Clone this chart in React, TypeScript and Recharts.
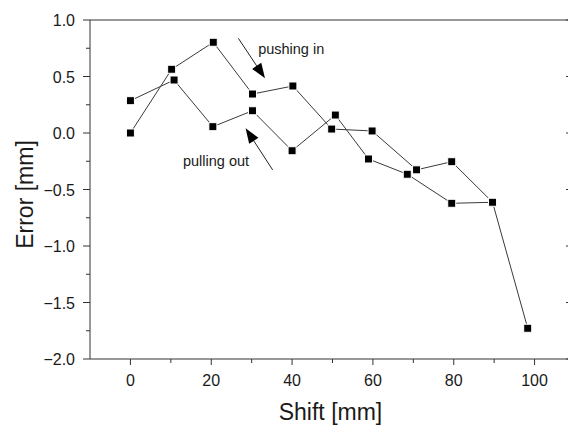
import React from 'react';
import { LineChart, Line, XAxis, YAxis, ReferenceLine, ReferenceDot } from 'recharts';

// pushing-in pass
const pushShift = [0, 10.2, 20.5, 30.2, 40.2, 49.8, 59.8, 70.8, 79.5, 89.6, 98.3];
const pushError = [0.0, 0.564, 0.803, 0.345, 0.416, 0.035, 0.018, -0.326, -0.254, -0.613, -1.728];

// pulling-out pass
const pullShift = [0, 10.8, 20.4, 30.2, 40.0, 50.7, 58.9, 68.5, 79.5, 89.6];
const pullError = [0.286, 0.469, 0.056, 0.197, -0.157, 0.159, -0.23, -0.365, -0.622, -0.613];

const xMajor = [0, 20, 40, 60, 80, 100];
const xMinor = [10, 30, 50, 70, 90];
const yMajor = [-2, -1.5, -1, -0.5, 0, 0.5, 1];
const yMinor = [-1.75, -1.25, -0.75, -0.25, 0.25, 0.75];

// annotation arrows: [tailShift, tailError, tipShift, tipError]
const pushArrow = [26.7, 0.838, 33.3, 0.484];
const pullArrow = [35.2, -0.327, 28.5, 0.042];

const pushData = pushShift.map((shift, i) => ({ shift, error: pushError[i] }));
const pullData = pullShift.map((shift, i) => ({ shift, error: pullError[i] }));
const xTicks = [...xMajor, ...xMinor].sort((a, b) => a - b);
const yTicks = [...yMajor, ...yMinor].sort((a, b) => a - b);

const AXIS = '#333';
const FONT = '"Liberation Sans", Arial, sans-serif';

const fmtY = (v: number) => (v < 0 ? '\u2212' : '') + Math.abs(v).toFixed(1);

const BottomTick = ({ x, y, payload }: any) => {
  const major = xMajor.includes(payload.value);
  return (
    <g>
      <line x1={x} x2={x} y1={y} y2={y + (major ? 6 : 4)} stroke={AXIS} />
      {major && (
        <text x={x} y={y + 27} textAnchor="middle" fontSize={16} fill="#1a1a1a" fontFamily={FONT}>
          {payload.value}
        </text>
      )}
    </g>
  );
};

const TopTick = ({ x, y, payload }: any) => {
  const major = xMajor.includes(payload.value);
  return <line x1={x} x2={x} y1={y} y2={y + (major ? 6 : 4)} stroke={AXIS} />;
};

const LeftTick = ({ x, y, payload }: any) => {
  const major = yMajor.includes(payload.value);
  return (
    <g>
      <line x1={x - (major ? 7 : 4)} x2={x} y1={y} y2={y} stroke={AXIS} />
      {major && (
        <text x={x - 15} y={y + 6} textAnchor="end" fontSize={16} fill="#1a1a1a" fontFamily={FONT}>
          {fmtY(payload.value)}
        </text>
      )}
    </g>
  );
};

// right frame sits just past the visible edge; only the longer ticks poke in
const RightTick = ({ x, y, payload }: any) => {
  const major = yMajor.includes(payload.value);
  return <line x1={x - (major ? 9 : 5)} x2={x} y1={y} y2={y} stroke={AXIS} />;
};

const SquareDot = (props: any) => {
  const { cx, cy, index } = props;
  if (cx == null || cy == null) return <g key={index} />;
  return (
    <rect key={index} x={cx - 4} y={cy - 4} width={8} height={8} fill="#000" stroke="#fff" strokeWidth={1} />
  );
};

const Arrow = (p: any) => {
  const { x1, y1, x2, y2 } = p;
  const a = Math.atan2(y2 - y1, x2 - x1);
  const len = 15;
  const half = 5.5;
  const bx = x2 - len * Math.cos(a);
  const by = y2 - len * Math.sin(a);
  const nx = -Math.sin(a) * half;
  const ny = Math.cos(a) * half;
  return (
    <g>
      <line x1={x1} y1={y1} x2={bx} y2={by} stroke="#222" strokeWidth={1} />
      <polygon points={`${x2},${y2} ${bx + nx},${by + ny} ${bx - nx},${by - ny}`} fill="#000" />
    </g>
  );
};

const Note = (text: string) => (p: any) => (
  <text x={p.cx} y={p.cy} fontSize={14.5} fill="#1a1a1a" fontFamily={FONT}>
    {text}
  </text>
);

const YTitle = ({ viewBox }: any) => (
  <text
    transform={`translate(${viewBox.x + viewBox.width - 65}, ${viewBox.y + viewBox.height / 2 + 5}) rotate(-90)`}
    textAnchor="middle"
    dominantBaseline="central"
    fontSize={23}
    fill="#1a1a1a"
    fontFamily={FONT}
  >
    Error [mm]
  </text>
);

const XTitle = ({ viewBox }: any) => (
  <text
    x={viewBox.x + viewBox.width / 2 - 2}
    y={viewBox.y + 61}
    textAnchor="middle"
    fontSize={23}
    fill="#1a1a1a"
    fontFamily={FONT}
  >
    Shift [mm]
  </text>
);

export default function App() {
  return (
    <div style={{ position: 'fixed', left: 0, top: 0, width: 568, height: 425, overflow: 'hidden', background: '#fff' }}>
      <LineChart width={600} height={425} margin={{ top: 10, right: 15, bottom: 36, left: 30 }}>
        <XAxis
          dataKey="shift"
          type="number"
          domain={[-10, 110]}
          ticks={xTicks}
          interval={0}
          height={30}
          tickSize={0}
          tickMargin={0}
          tickLine={false}
          tick={<BottomTick />}
          axisLine={{ stroke: AXIS }}
          allowDataOverflow
          label={<XTitle />}
        />
        <XAxis
          xAxisId="top"
          orientation="top"
          type="number"
          domain={[-10, 110]}
          ticks={xTicks}
          interval={0}
          height={10}
          tickSize={0}
          tickMargin={0}
          tickLine={false}
          tick={<TopTick />}
          axisLine={{ stroke: AXIS }}
          allowDataOverflow
        />
        <YAxis
          type="number"
          domain={[-2, 1]}
          ticks={yTicks}
          interval={0}
          width={60}
          tickSize={0}
          tickMargin={0}
          tickLine={false}
          tick={<LeftTick />}
          axisLine={{ stroke: AXIS }}
          allowDataOverflow
          label={<YTitle />}
        />
        <YAxis
          yAxisId="right"
          orientation="right"
          type="number"
          domain={[-2, 1]}
          ticks={yTicks}
          interval={0}
          width={10}
          tickSize={0}
          tickMargin={0}
          tickLine={false}
          tick={<RightTick />}
          axisLine={{ stroke: AXIS }}
          allowDataOverflow
        />
        <Line
          data={pushData}
          dataKey="error"
          stroke="#3a3a3a"
          strokeWidth={1}
          dot={SquareDot}
          activeDot={false}
          isAnimationActive={false}
        />
        <Line
          data={pullData}
          dataKey="error"
          stroke="#3a3a3a"
          strokeWidth={1}
          dot={SquareDot}
          activeDot={false}
          isAnimationActive={false}
        />
        <ReferenceLine
          segment={[{ x: pushArrow[0], y: pushArrow[1] }, { x: pushArrow[2], y: pushArrow[3] }]}
          shape={Arrow}
        />
        <ReferenceLine
          segment={[{ x: pullArrow[0], y: pullArrow[1] }, { x: pullArrow[2], y: pullArrow[3] }]}
          shape={Arrow}
        />
        <ReferenceDot x={31.6} y={0.7} r={0} shape={Note('pushing in')} />
        <ReferenceDot x={13.0} y={-0.295} r={0} shape={Note('pulling out')} />
      </LineChart>
    </div>
  );
}
